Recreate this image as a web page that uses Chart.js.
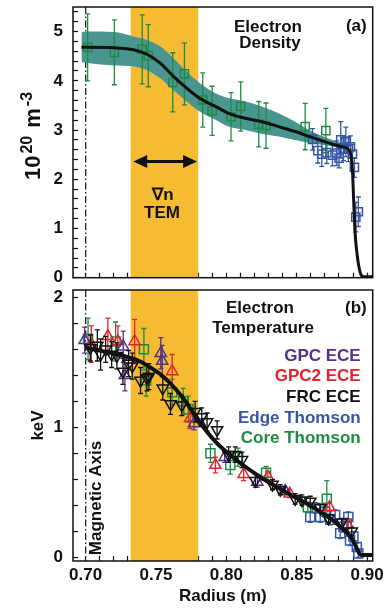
<!DOCTYPE html>
<html>
<head>
<meta charset="utf-8">
<title>Electron density and temperature profiles</title>
<script src="https://cdn.jsdelivr.net/npm/chart.js@4.4.1/dist/chart.umd.min.js"></script>
<style>
  html, body { margin: 0; padding: 0; background: #fff; }
  #page { position: relative; width: 388px; height: 608px; overflow: hidden; }
  canvas { position: absolute; left: 0; }
  #neChart { top: 0; }
  #teChart { top: 283px; }
</style>
</head>
<body>
<div id="page">
  <canvas id="neChart" width="388" height="290"></canvas>
  <canvas id="teChart" width="388" height="325"></canvas>
</div>
<script>
// ---- shared radius axis (m) ----
const radiusMin = 0.691, radiusMax = 0.904;
const radiusLabels = [0.70, 0.75, 0.80, 0.85, 0.90];
const magAxisR = 0.70;
const temRange = [0.732, 0.780];

// ---- (a) electron density, 10^20 m^-3 ----
const neLabels = [0, 1, 2, 3, 4, 5];
const neFitR = [0.697, 0.701, 0.720, 0.734, 0.7435, 0.753, 0.7624, 0.7718, 0.7813, 0.7922, 0.8016, 0.8135, 0.8253, 0.8371, 0.8489, 0.8608, 0.8726, 0.882, 0.8867, 0.8887, 0.8896, 0.8905, 0.8915, 0.8926, 0.8938, 0.8955, 0.8973, 0.904];
const neFit = [4.68, 4.68, 4.67, 4.63, 4.54, 4.36, 4.09, 3.85, 3.64, 3.48, 3.34, 3.24, 3.17, 3.07, 2.97, 2.85, 2.74, 2.66, 2.61, 2.46, 2.19, 1.55, 0.90, 0.55, 0.29, 0.075, 0.02, 0.02];
const neBandR = [0.697, 0.701, 0.720, 0.734, 0.7435, 0.753, 0.7624, 0.7718, 0.7813, 0.7922, 0.8016, 0.8135, 0.8253, 0.8371, 0.8489, 0.8608, 0.8726, 0.882, 0.885];
const neBandHi = [4.98, 5.00, 4.99, 4.90, 4.83, 4.70, 4.46, 4.19, 3.95, 3.75, 3.65, 3.58, 3.48, 3.34, 3.17, 2.97, 2.83, 2.73, 2.68];
const neBandLo = [4.38, 4.36, 4.31, 4.29, 4.22, 4.05, 3.81, 3.58, 3.37, 3.21, 3.07, 3.00, 2.92, 2.87, 2.80, 2.73, 2.68, 2.63, 2.63];
const coreNeR = [0.7014, 0.7204, 0.7402, 0.7445, 0.7619, 0.7702, 0.7832, 0.7899, 0.8033, 0.8102, 0.8230, 0.8282, 0.8560, 0.8707];
const coreNe = [4.68, 4.58, 4.64, 4.51, 3.97, 4.14, 3.61, 3.39, 3.27, 3.48, 3.12, 3.09, 3.07, 2.99];
const coreNeErr = [0.68, 0.66, 0.70, 0.63, 0.60, 0.63, 0.55, 0.50, 0.49, 0.50, 0.46, 0.46, 0.47, 0.45];
const edgeNeR = [0.8612, 0.8650, 0.8678, 0.8714, 0.8754, 0.8785, 0.8801, 0.8813, 0.8832, 0.8849, 0.8867, 0.8882, 0.8896, 0.8910, 0.8920, 0.8938];
const edgeNe = [2.81, 2.58, 2.51, 2.54, 2.49, 2.53, 2.43, 2.80, 2.63, 2.76, 2.61, 2.66, 2.51, 2.24, 1.23, 1.34];
const edgeNeErr = [0.22, 0.25, 0.25, 0.22, 0.22, 0.25, 0.20, 0.37, 0.25, 0.30, 0.25, 0.22, 0.20, 0.20, 0.30, 0.30];
const arrowSpan = [0.7338, 0.7792];
const arrowLevel = 2.36;

// ---- (b) electron temperature, keV ----
const teLabels = [0, 1, 2];
const teFitR = [0.7007, 0.710, 0.720, 0.730, 0.738, 0.746, 0.754, 0.7626, 0.771, 0.779, 0.7922, 0.8087, 0.8253, 0.8442, 0.8608, 0.8773, 0.8891, 0.8962, 0.9035];
const teFit = [1.61, 1.59, 1.57, 1.54, 1.51, 1.46, 1.40, 1.31, 1.20, 1.07, 0.89, 0.735, 0.61, 0.49, 0.39, 0.27, 0.146, 0.018, 0.018];
const gpcR = [0.6993, 0.7267, 0.7279, 0.7534, 0.7544, 0.7770, 0.7988, 0.8220, 0.8418];
const gpcTe = [1.67, 1.62, 1.40, 1.57, 1.51, 1.03, 0.77, 0.58, 0.51];
const gpcErr = [0.10, 0.12, 0.12, 0.12, 0.12, 0.05, 0.04, 0.04, 0.03];
const gpc2R = [0.7040, 0.7158, 0.7229, 0.7348, 0.7615, 0.7742, 0.7922, 0.8123, 0.8295, 0.8450, 0.8733, 0.8863];
const gpc2Te = [1.64, 1.70, 1.66, 1.66, 1.43, 1.07, 0.71, 0.64, 0.62, 0.49, 0.385, 0.25];
const gpc2Err = [0.14, 0.14, 0.12, 0.17, 0.13, 0.08, 0.06, 0.05, 0.04, 0.03, 0.03, 0.03];
const frcR = [0.7033, 0.7083, 0.7106, 0.7142, 0.7185, 0.7222, 0.7265, 0.7305, 0.7331, 0.7390, 0.7435, 0.7449, 0.7548, 0.7603, 0.7683, 0.7778, 0.7825, 0.7863, 0.7934, 0.8016, 0.8063, 0.8111, 0.8206, 0.8328, 0.8383, 0.8489, 0.8537, 0.8596, 0.8667, 0.8726, 0.8820, 0.8891];
const frcTe = [1.61, 1.63, 1.56, 1.60, 1.56, 1.55, 1.43, 1.49, 1.47, 1.36, 1.38, 1.39, 1.30, 1.18, 1.17, 1.12, 1.08, 1.04, 0.98, 0.79, 0.79, 0.75, 0.59, 0.56, 0.52, 0.45, 0.44, 0.43, 0.38, 0.30, 0.27, 0.20];
const frcErr = [0.10, 0.12, 0.12, 0.10, 0.10, 0.10, 0.10, 0.10, 0.10, 0.10, 0.10, 0.10, 0.09, 0.08, 0.08, 0.08, 0.07, 0.07, 0.07, 0.06, 0.06, 0.06, 0.05, 0.04, 0.04, 0.04, 0.04, 0.04, 0.03, 0.03, 0.03, 0.03];
const coreTeR = [0.7017, 0.7213, 0.7414, 0.7430, 0.7615, 0.7693, 0.7730, 0.7887, 0.8028, 0.8083, 0.8282, 0.8579, 0.8714];
const coreTe = [1.68, 1.66, 1.60, 1.36, 1.27, 1.20, 1.14, 0.80, 0.71, 0.77, 0.65, 0.385, 0.45];
const coreTeErr = [0.16, 0.15, 0.16, 0.12, 0.10, 0.10, 0.10, 0.07, 0.07, 0.07, 0.05, 0.04, 0.14];
const edgeTeR = [0.8596, 0.8631, 0.8667, 0.8702, 0.8738, 0.8773, 0.8809, 0.8832, 0.8856, 0.8867, 0.8879, 0.8903, 0.8927, 0.8938];
const edgeTe = [0.31, 0.38, 0.31, 0.35, 0.29, 0.325, 0.185, 0.235, 0.26, 0.31, 0.13, 0.16, 0.08, 0.03];
const edgeTeErr = [0.04, 0.04, 0.04, 0.04, 0.04, 0.04, 0.04, 0.04, 0.04, 0.04, 0.04, 0.04, 0.03, 0.03];

const FONT = "'Liberation Sans', Arial, Helvetica, sans-serif";
const tickFont = { family: FONT, size: 17, weight: 'bold' };
const INK = '#111';
const GREEN = '#1E8B43', BLUE = '#3556A5', RED = '#E3232C', PURPLE = '#55308D';
const ORANGE = '#F5BB33', TEAL = '#4A958F';

const pairs = (xs, ys) => xs.map((x, i) => ({ x: x, y: ys[i] }));
const labelFor = (list, v, digits) => {
    const hit = list.find(l => Math.abs(l - v) < 1e-6);
    return hit === undefined ? '' : hit.toFixed(digits);
};

// the frame is fixed, so label overhang must not push the plot area in
function noOverhang(s) {
    s.paddingTop = 0; s.paddingBottom = 0; s.paddingLeft = 0; s.paddingRight = 0;
}

function radiusScale(withLabels) {
    return {
        type: 'linear', position: 'bottom', min: radiusMin, max: radiusMax, z: 1,
        afterFit: s => { s.height = withLabels ? 47 : 12.3; noOverhang(s); },
        border: { display: false },
        grid: { drawOnChartArea: false, tickLength: -5, tickColor: INK, tickWidth: 1.2 },
        ticks: {
            display: withLabels, stepSize: 0.01, includeBounds: false, autoSkip: false,
            maxRotation: 0, padding: 9, color: INK, font: tickFont,
            callback: v => labelFor(radiusLabels, v, 2)
        },
        title: withLabels
            ? { display: true, text: 'Radius (m)', color: INK, font: tickFont, padding: { top: 0, bottom: 1 } }
            : { display: false }
    };
}

function valueScale(min, max, labels, title) {
    return {
        type: 'linear', position: 'left', min: min, max: max, z: 1,
        afterFit: s => { s.width = 73; noOverhang(s); },
        border: { display: false },
        grid: { drawOnChartArea: false, tickLength: -5, tickColor: INK, tickWidth: 1.2 },
        ticks: {
            stepSize: 0.2, includeBounds: false, autoSkip: false, padding: 15,
            color: INK, font: tickFont,
            callback: v => labelFor(labels, v, 0)
        },
        title: title
    };
}

function openMarks(color, style, radius, rotation, xs, ys, errs) {
    return {
        type: 'scatter', showLine: false, data: pairs(xs, ys), errors: errs,
        borderColor: color, backgroundColor: 'rgba(0,0,0,0)',
        pointStyle: style, pointRadius: radius, pointRotation: rotation,
        pointBorderColor: color, pointBackgroundColor: 'rgba(0,0,0,0)', pointBorderWidth: 1.5
    };
}

function fitLine(xs, ys, width) {
    return {
        type: 'line', data: pairs(xs, ys), borderColor: INK, borderWidth: width,
        pointRadius: 0, cubicInterpolationMode: 'monotone', fill: false
    };
}

// vertical error bars, painted right after their own dataset
const errorBars = {
    id: 'errorBars',
    afterDatasetDraw(chart, args) {
        const ds = chart.data.datasets[args.index];
        if (!ds.errors) return;
        const ctx = chart.ctx, y = chart.scales.y, a = chart.chartArea;
        ctx.save();
        ctx.beginPath();
        ctx.rect(a.left, a.top, a.right - a.left, a.bottom - a.top);
        ctx.clip();
        ctx.strokeStyle = ds.borderColor;
        ctx.lineWidth = 1.3;
        ctx.beginPath();
        args.meta.data.forEach((pt, i) => {
            const v = ds.data[i].y, e = ds.errors[i];
            const top = y.getPixelForValue(v + e), bot = y.getPixelForValue(v - e);
            ctx.moveTo(pt.x, top); ctx.lineTo(pt.x, bot);
            ctx.moveTo(pt.x - 2.5, top); ctx.lineTo(pt.x + 2.5, top);
            ctx.moveTo(pt.x - 2.5, bot); ctx.lineTo(pt.x + 2.5, bot);
        });
        ctx.stroke();
        ctx.restore();
    }
};

// TEM region shading and the magnetic axis line
function drawBackdrop(chart) {
    const { ctx, chartArea: a, scales: { x } } = chart;
    const x0 = x.getPixelForValue(temRange[0]), x1 = x.getPixelForValue(temRange[1]);
    ctx.save();
    ctx.fillStyle = ORANGE;
    ctx.fillRect(x0, a.top, x1 - x0, a.bottom - a.top);
    const xm = x.getPixelForValue(magAxisR);
    ctx.strokeStyle = '#222';
    ctx.lineWidth = 1.3;
    ctx.setLineDash([7, 2.5, 1.5, 2.5]);
    ctx.beginPath();
    ctx.moveTo(xm, a.top);
    ctx.lineTo(xm, a.bottom);
    ctx.stroke();
    ctx.restore();
}

function drawFrame(chart) {
    const { ctx, chartArea: a } = chart;
    ctx.save();
    ctx.strokeStyle = INK;
    ctx.lineWidth = 1.5;
    ctx.strokeRect(a.left, a.top, a.right - a.left, a.bottom - a.top);
    ctx.restore();
}

function text(ctx, str, x, y, align, color, size) {
    ctx.font = 'bold ' + (size || 17) + 'px ' + FONT;
    ctx.textAlign = align;
    ctx.textBaseline = 'alphabetic';
    ctx.fillStyle = color || INK;
    ctx.fillText(str, x, y);
}

const densityDecor = {
    id: 'densityDecor',
    beforeDatasetsDraw: drawBackdrop,
    afterDraw(chart) {
        const { ctx, scales: { x, y } } = chart;
        drawFrame(chart);
        ctx.save();
        text(ctx, 'Electron', 268, 31.5, 'center');
        text(ctx, 'Density', 270, 48, 'center');
        text(ctx, '(a)', 366.7, 31, 'right');
        text(ctx, '\u2207n', 163, 200, 'center');
        text(ctx, 'TEM', 162, 218, 'center');

        // double arrow across the TEM band
        const xa = x.getPixelForValue(arrowSpan[0]), xb = x.getPixelForValue(arrowSpan[1]);
        const ya = y.getPixelForValue(arrowLevel);
        ctx.strokeStyle = INK;
        ctx.fillStyle = INK;
        ctx.lineWidth = 3;
        ctx.beginPath();
        ctx.moveTo(xa + 8, ya); ctx.lineTo(xb - 8, ya);
        ctx.stroke();
        ctx.beginPath();
        ctx.moveTo(xa, ya); ctx.lineTo(xa + 14, ya - 6.5); ctx.lineTo(xa + 14, ya + 6.5); ctx.closePath();
        ctx.moveTo(xb, ya); ctx.lineTo(xb - 14, ya - 6.5); ctx.lineTo(xb - 14, ya + 6.5); ctx.closePath();
        ctx.fill();

        // axis title with superscripts
        const parts = [['10', 22, 0], ['20', 16, -8], [' m', 22, 0], ['-3', 16, -8]];
        const gap = 2;
        let total = 0;
        parts.forEach(p => { ctx.font = 'bold ' + p[1] + 'px ' + FONT; total += ctx.measureText(p[0]).width + gap; });
        ctx.translate(40, 135);
        ctx.rotate(-Math.PI / 2);
        let cx = -total / 2;
        parts.forEach(p => {
            text(ctx, p[0], cx, p[2], 'left', INK, p[1]);
            cx += ctx.measureText(p[0]).width + gap;
        });
        ctx.restore();
    }
};

const temperatureDecor = {
    id: 'temperatureDecor',
    beforeDatasetsDraw: drawBackdrop,
    afterDraw(chart) {
        const ctx = chart.ctx;
        drawFrame(chart);
        ctx.save();
        text(ctx, 'Electron', 260, 30, 'center');
        text(ctx, 'Temperature', 263, 50, 'center');
        text(ctx, '(b)', 366.7, 30, 'right');
        text(ctx, 'GPC ECE', 360.7, 77.5, 'right', PURPLE);
        text(ctx, 'GPC2 ECE', 360.7, 98, 'right', RED);
        text(ctx, 'FRC ECE', 360.7, 119, 'right', INK);
        text(ctx, 'Edge Thomson', 360.7, 139.5, 'right', BLUE);
        text(ctx, 'Core Thomson', 360.7, 159.5, 'right', GREEN);
        ctx.translate(100.5, 215);
        ctx.rotate(-Math.PI / 2);
        text(ctx, 'Magnetic Axis', 0, 0, 'center');
        ctx.restore();
    }
};

const common = {
    responsive: false,
    devicePixelRatio: 1,
    animation: false,
    events: [],
    layout: { autoPadding: false, padding: { left: 0, right: 15.3, top: 7, bottom: 0 } },
    plugins: { legend: { display: false }, tooltip: { enabled: false } }
};

new Chart(document.getElementById('neChart'), {
    type: 'scatter',
    data: {
        datasets: [
            fitLine(neFitR, neFit, 3),
            openMarks(GREEN, 'rect', 5.8, 0, coreNeR, coreNe, coreNeErr),
            openMarks(BLUE, 'rect', 5.8, 0, edgeNeR, edgeNe, edgeNeErr),
            { type: 'line', data: pairs(neBandR, neBandHi), borderWidth: 0, borderColor: 'rgba(0,0,0,0)',
              pointRadius: 0, cubicInterpolationMode: 'monotone', fill: '+1', backgroundColor: TEAL },
            { type: 'line', data: pairs(neBandR, neBandLo), borderWidth: 0, borderColor: 'rgba(0,0,0,0)',
              pointRadius: 0, cubicInterpolationMode: 'monotone', fill: false }
        ]
    },
    options: Object.assign({}, common, {
        scales: {
            x: radiusScale(false),
            y: valueScale(0, 5.5, neLabels, { display: false })
        }
    }),
    plugins: [densityDecor, errorBars]
});

new Chart(document.getElementById('teChart'), {
    type: 'scatter',
    data: {
        datasets: [
            fitLine(teFitR, teFit, 4),
            openMarks(INK, 'triangle', 6.5, 180, frcR, frcTe, frcErr),
            openMarks(PURPLE, 'triangle', 6.5, 0, gpcR, gpcTe, gpcErr),
            openMarks(RED, 'triangle', 6.5, 0, gpc2R, gpc2Te, gpc2Err),
            openMarks(GREEN, 'rect', 6.4, 0, coreTeR, coreTe, coreTeErr),
            openMarks(BLUE, 'rect', 6.4, 0, edgeTeR, edgeTe, edgeTeErr)
        ]
    },
    options: Object.assign({}, common, {
        scales: {
            x: radiusScale(true),
            y: valueScale(-0.028, 2.056, teLabels,
                { display: true, text: 'keV', color: INK, font: tickFont, padding: { top: 28, bottom: 0 } })
        }
    }),
    plugins: [temperatureDecor, errorBars]
});
</script>
</body>
</html>
